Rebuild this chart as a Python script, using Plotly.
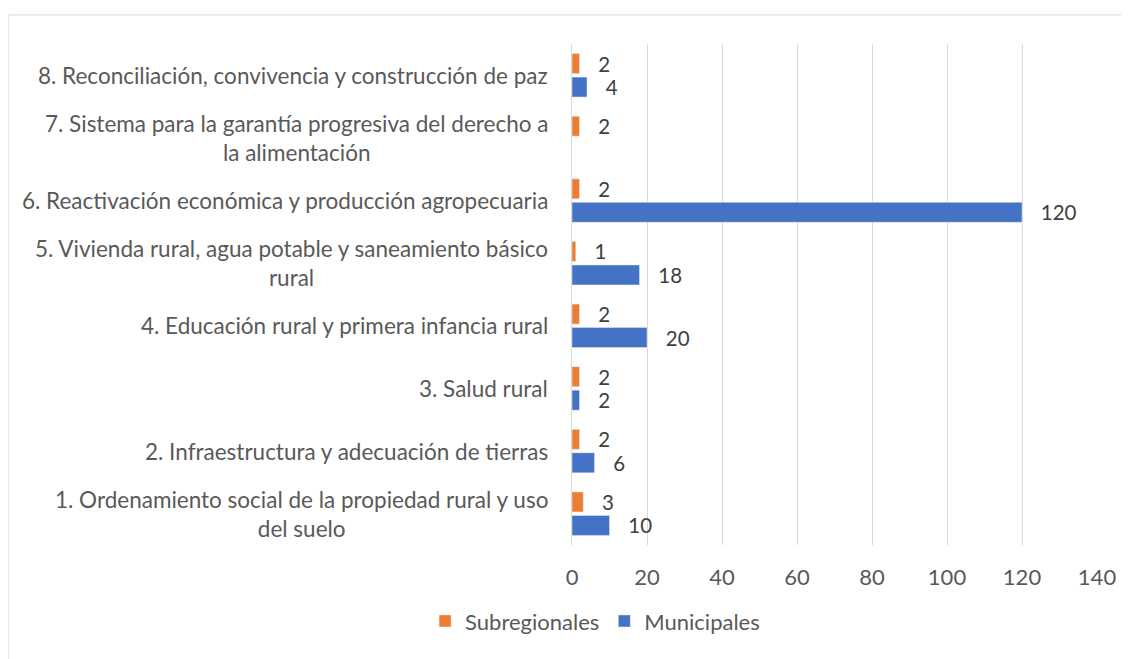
import plotly.graph_objects as go

# categories bottom -> top
categorias = [
    "1. Ordenamiento social de la propiedad rural y uso<br>del suelo",
    "2. Infraestructura y adecuación de tierras",
    "3. Salud rural",
    "4. Educación rural y primera infancia rural",
    "5. Vivienda rural, agua potable y saneamiento básico<br>rural",
    "6. Reactivación económica y producción agropecuaria",
    "7. Sistema para la garantía progresiva del derecho a<br>la alimentación",
    "8. Reconciliación, convivencia y construcción de paz",
]
subregionales = [3, 2, 2, 2, 1, 2, 2, 2]
municipales = [10, 6, 2, 20, 18, 120, None, 4]
ticks_x = [0, 20, 40, 60, 80, 100, 120, 140]

FONT = "Lato"
TXT = "#595959"
ids = list(range(len(categorias)))

fig = go.Figure()
# plotly stacks grouped h-bars bottom-up, so municipal first to keep orange on top
fig.add_trace(go.Bar(
    y=ids, x=municipales, orientation="h", name="Municipales",
    marker=dict(color="#4472C4"), legendrank=2,
    text=municipales, texttemplate="   %{x}", textposition="outside",
    constraintext="none",
    textfont=dict(family=FONT, size=20.5, color="#404040"), cliponaxis=False,
))
fig.add_trace(go.Bar(
    y=ids, x=subregionales, orientation="h", name="Subregionales",
    marker=dict(color="#ED7D31"), legendrank=1,
    text=subregionales, texttemplate="   %{x}", textposition="outside",
    constraintext="none",
    textfont=dict(family=FONT, size=20.5, color="#404040"), cliponaxis=False,
))

# category labels as centred annotations (tick labels can't centre multi-line text)
for i, c in enumerate(categorias):
    fig.add_annotation(
        x=0, xref="paper", y=i, yref="y", text=c, showarrow=False,
        xanchor="right", align="center", xshift=-22,
        font=dict(family=FONT, size=22.5, color=TXT),
    )

fig.add_shape(type="rect", xref="paper", yref="paper",
              x0=-1.074, x1=1.2, y0=-0.4, y1=1.058,
              line=dict(color="#D9D9D9", width=1), layer="below")

# page body has an 8px margin, so pull everything up/left by 8px
fig.update_layout(
    width=1129, height=659,
    margin=dict(l=564, r=40, t=36, b=122),
    plot_bgcolor="white", paper_bgcolor="white",
    barmode="group", bargap=0.25, bargroupgap=0.15,
    font=dict(family=FONT, size=22, color=TXT),
    legend=dict(orientation="h", x=0.044, xanchor="center", y=-0.152, yanchor="middle",
                font=dict(family=FONT, size=22, color=TXT), itemwidth=30),
    showlegend=True,
    xaxis=dict(range=[0, 140], tickvals=ticks_x, showgrid=True, gridcolor="#D9D9D9",
               gridwidth=1, zeroline=False, showline=False, ticks="",
               ticklabelstandoff=17, tickfont=dict(family=FONT, size=22, color=TXT)),
    yaxis=dict(range=[-0.5, 7.5], showticklabels=False, showgrid=False, zeroline=False,
               showline=True, linecolor="#D9D9D9", linewidth=1, ticks=""),
)

fig.write_html("out.html")
